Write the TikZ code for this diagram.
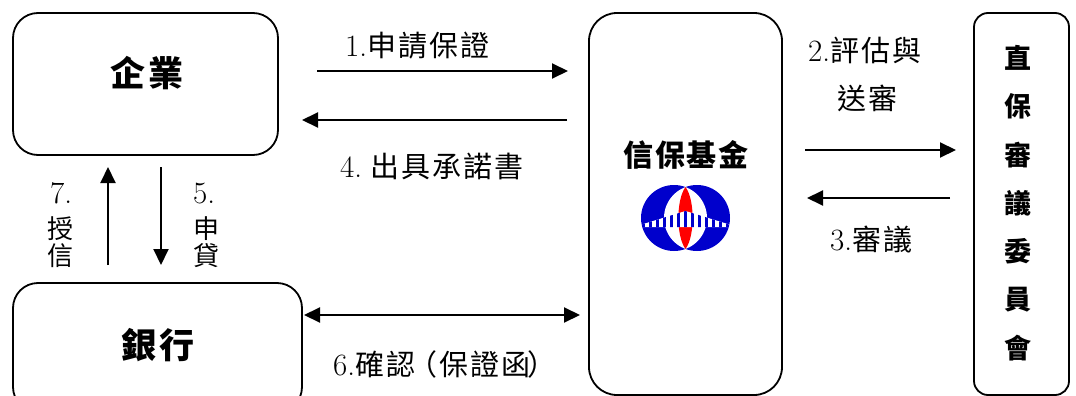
\documentclass[tikz,border=0pt]{standalone}
\usepackage{fontspec}
\usetikzlibrary{arrows.meta}
\newfontfamily\cjk[LetterSpace=7]{Noto Sans CJK TC}
\newfontfamily\cjkb[LetterSpace=6]{Noto Sans CJK TC}
\definecolor{logoblue}{RGB}{0,0,204}
\definecolor{logored}{RGB}{255,0,0}
\newcommand\dg[1]{{\rmfamily\fontsize{31}{31}\selectfont #1}}
\tikzset{
  box/.style={draw, line width=1.8pt, inner sep=0pt, outer sep=0pt},
  lbl/.style={font=\fontsize{29}{29}\selectfont\cjk, anchor=base west, inner sep=0pt},
  vlbl/.style={font=\fontsize{26}{26}\selectfont\cjk, anchor=base west, inner sep=0pt},
  title/.style={font=\fontsize{#1}{#1}\selectfont\cjkb\bfseries, inner sep=0pt},
  arr/.style={line width=2pt, -{Triangle[length=16pt,width=15pt]}},
  darr/.style={line width=2pt, {Triangle[length=16pt,width=15pt]}-{Triangle[length=16pt,width=15pt]}}
}
\begin{document}
\begin{tikzpicture}[x=1pt,y=-1pt]
\useasboundingbox (0,0) rectangle (1076,396);
\clip (0,0) rectangle (1076,396);
% boxes
\node[box, rounded corners=25pt, minimum width=265pt, minimum height=142pt] (qy) at (145.5,84) {};
\node[box, rounded corners=25pt, minimum width=289pt, minimum height=129pt] (yh) at (157.5,347.5) {};
\node[box, rounded corners=28pt, minimum width=193pt, minimum height=382pt] (xb) at (685.5,204) {};
\node[box, rounded corners=14pt, minimum width=95pt, minimum height=382pt] (zb) at (1021.5,204) {};
% titles
\node[title=35] (tqy) at (147,73) {企業};
\node[title=35] (tyh) at (158,345) {銀行};
\node[title=30] (txb) at (686,155) {信保基金};
\node[title=27, align=center, font=\fontsize{27}{48.3}\selectfont\cjkb\bfseries] (tzb) at (1018,203) {直\\保\\審\\議\\委\\員\\會};
% logo
\begin{scope}
  \fill[logoblue] (674,218) circle (33) (697,218) circle (33);
  \begin{scope}
    \clip (674,218) circle (33);
    \fill[white] (697,218) circle (33);
  \end{scope}
  \fill[logored] (685.5,187) .. controls (695,200) and (695,236) .. (685.5,249)
     .. controls (676,236) and (676,200) .. (685.5,187) -- cycle;
  \begin{scope}
    \clip (674,218) circle (33) (697,218) circle (33);
    \fill[white] (640,227) -- (640,225) -- (685.5,211) -- (731,225) -- (731,227) -- cycle;
    \clip (640,227) -- (640,225) -- (685.5,211) -- (731,225) -- (731,227) -- cycle;
    \foreach \i in {-6,...,6}
      \fill[logoblue] ({685.5+7*\i-1.4},205) rectangle ({685.5+7*\i+1.4},230);
  \end{scope}
\end{scope}
% arrow end points
\coordinate (a1s) at (317,71);  \coordinate (a1e) at (568,71);
\coordinate (a4s) at (567,120); \coordinate (a4e) at (302,120);
\coordinate (a2s) at (805,150); \coordinate (a2e) at (956,150);
\coordinate (a3s) at (950,198); \coordinate (a3e) at (807,198);
\coordinate (a7s) at (108,265); \coordinate (a7e) at (108,167);
\coordinate (a5s) at (161,167); \coordinate (a5e) at (161,265);
\coordinate (a6s) at (304,315); \coordinate (a6e) at (580,315);
\draw[arr] (a1s) -- (a1e);
\draw[arr] (a4s) -- (a4e);
\draw[arr] (a2s) -- (a2e);
\draw[arr] (a3s) -- (a3e);
\draw[arr] (a7s) -- (a7e);
\draw[arr] (a5s) -- (a5e);
\draw[darr] (a6s) -- (a6e);
% labels
\node[lbl] (l1) at (345,57) {\dg{1.}申請保證};
\node[lbl] (l4) at (340,177) {\dg{4.}\kern8pt 出具承諾書};
\node[lbl] (l2a) at (808,62) {\dg{2.}評估與};
\node[lbl] (l2b) at (837,109) {送審};
\node[lbl] (l3) at (830,250) {\dg{3.}審議};
\node[lbl] (l6) at (333,375) {\dg{6.}確認\kern-7pt（保證函\kern-3pt）};
\node[vlbl] (l7a) at (50,203) {\dg{7.}};
\node[vlbl] (l7b) at (47,238) {授};
\node[vlbl] (l7c) at (47,265) {信};
\node[vlbl] (l5a) at (193,203) {\dg{5.}};
\node[vlbl] (l5b) at (193,238) {申};
\node[vlbl] (l5c) at (193,265) {貸};
\end{tikzpicture}
\end{document}
